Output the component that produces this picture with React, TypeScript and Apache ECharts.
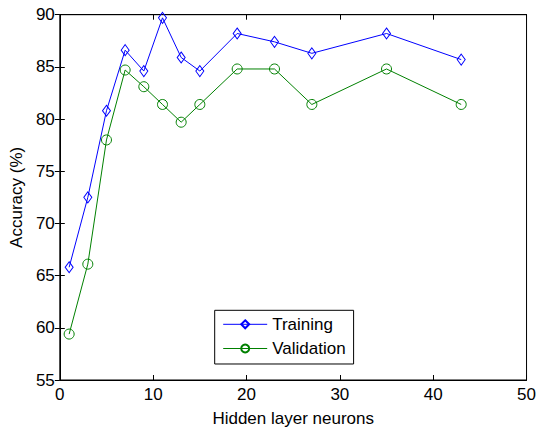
import React, { useEffect, useRef } from "react";
import * as echarts from "echarts";

const neurons = [1, 3, 5, 7, 9, 11, 13, 15, 19, 23, 27, 35, 43];
const training = [65.8, 72.5, 80.8, 86.6, 84.6, 89.7, 85.9, 84.6, 88.2, 87.4, 86.3, 88.2, 85.7];
const validation = [59.4, 66.1, 78.0, 84.7, 83.1, 81.4, 79.7, 81.4, 84.8, 84.8, 81.4, 84.8, 81.4];
const xTicks = { min: 0, max: 50, interval: 10 };
const yTicks = { min: 55, max: 90, interval: 5 };

const FONT = "'Liberation Sans', Arial, Helvetica, sans-serif";
const FS = 17;

export default function App() {
  const ref = useRef<HTMLDivElement>(null);
  useEffect(() => {
    if (!ref.current) return;
    const chart = echarts.init(ref.current, undefined, { renderer: "svg" });
    const tick = { show: true, inside: true, length: 5, lineStyle: { color: "#000", width: 1 } };
    const axLine = { show: true, lineStyle: { color: "#000", width: 1 } };
    chart.setOption({
      animation: false,
      backgroundColor: "#fff",
      textStyle: { fontFamily: FONT },
      grid: {
        left: 58,
        top: 14.7,
        right: 9.3,
        bottom: 45,
        show: true,
        borderColor: "#000",
        borderWidth: 1,
        backgroundColor: "transparent",
      },
      legend: {
        orient: "vertical",
        left: 214.7,
        top: 310.3,
        backgroundColor: "#fff",
        borderColor: "#000",
        borderWidth: 1,
        borderRadius: 0,
        padding: [5.5, 8, 7, 8],
        itemWidth: 44,
        itemHeight: 10,
        itemGap: 7.2,
        lineStyle: { width: 1 },
        textStyle: { fontFamily: FONT, fontSize: FS, color: "#000" },
        data: ["Training", "Validation"],
      },
      xAxis: [
        {
          type: "value",
          ...xTicks,
          name: "Hidden layer neurons",
          nameLocation: "middle",
          nameGap: 30,
          nameTextStyle: { fontFamily: FONT, fontSize: FS, color: "#000" },
          axisLine: axLine,
          axisTick: tick,
          splitLine: { show: false },
          axisLabel: { margin: 6, fontFamily: FONT, fontSize: FS, color: "#000" },
        },
        {
          type: "value",
          ...xTicks,
          position: "top",
          axisLine: axLine,
          axisTick: tick,
          splitLine: { show: false },
          axisLabel: { show: false },
        },
      ],
      yAxis: [
        {
          type: "value",
          ...yTicks,
          name: "Accuracy (%)",
          nameLocation: "middle",
          nameGap: 33,
          nameTextStyle: { fontFamily: FONT, fontSize: FS, color: "#000" },
          axisLine: axLine,
          axisTick: tick,
          splitLine: { show: false },
          axisLabel: { margin: 5, fontFamily: FONT, fontSize: FS, color: "#000" },
        },
        {
          type: "value",
          ...yTicks,
          position: "right",
          axisLine: axLine,
          axisTick: tick,
          splitLine: { show: false },
          axisLabel: { show: false },
        },
      ],
      series: [
        {
          name: "Training",
          type: "line",
          data: neurons.map((x, i) => [x, training[i]]),
          symbol: "diamond",
          symbolSize: [8, 11],
          showAllSymbol: true,
          lineStyle: { color: "#0000ff", width: 1 },
          itemStyle: { color: "rgba(0,0,0,0)", borderColor: "#0000ff", borderWidth: 1 },
          emphasis: { disabled: true },
        },
        {
          name: "Validation",
          type: "line",
          data: neurons.map((x, i) => [x, validation[i]]),
          symbol: "circle",
          symbolSize: 10,
          showAllSymbol: true,
          lineStyle: { color: "#008000", width: 1 },
          itemStyle: { color: "rgba(0,0,0,0)", borderColor: "#008000", borderWidth: 1 },
          emphasis: { disabled: true },
        },
      ],
    });
    return () => chart.dispose();
  }, []);
  return <div ref={ref} style={{ width: 539, height: 432, position: "absolute", left: 0, top: 0 }} />;
}
